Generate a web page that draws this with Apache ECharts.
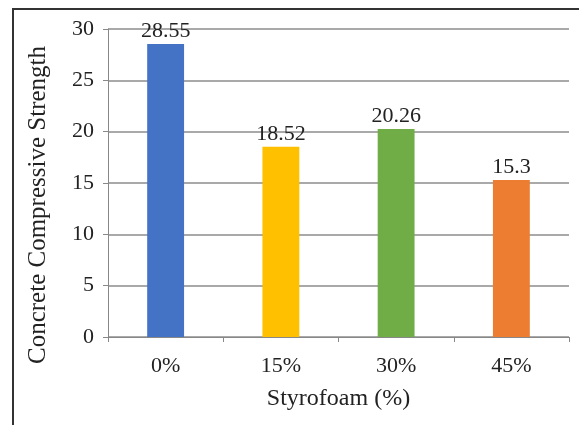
<!DOCTYPE html>
<html>
<head>
<meta charset="utf-8">
<script src="https://cdn.jsdelivr.net/npm/echarts@6/dist/echarts.min.js"></script>
<style>
  html, body { margin: 0; padding: 0; background: #fff; }
  #chart { width: 579px; height: 425px; }
</style>
</head>
<body>
<div id="chart"></div>
<script>
// Styrofoam replacement levels and measured compressive strength
const categories = ['0%', '15%', '30%', '45%'];
const strength = [28.55, 18.52, 20.26, 15.3];
const barColors = ['#4472C4', '#FFC000', '#70AD47', '#ED7D31'];
const yTicks = { min: 0, max: 30, interval: 5 };

const serif = '"Liberation Serif", "Times New Roman", serif';

const chart = echarts.init(document.getElementById('chart'));
chart.setOption({
  animation: false,
  backgroundColor: '#fff',
  graphic: [{
    type: 'rect',
    shape: { x: 13, y: 9, width: 620, height: 460 },
    style: { fill: 'none', stroke: '#333', lineWidth: 2 },
    silent: true
  }],
  grid: { left: 108, top: 29, right: 10, bottom: 88 },
  xAxis: {
    type: 'category',
    data: categories,
    name: 'Styrofoam (%)',
    nameLocation: 'middle',
    nameGap: 50,
    nameTextStyle: { fontFamily: serif, fontSize: 24, color: '#222' },
    axisLine: { lineStyle: { color: '#888', width: 1 } },
    axisTick: { show: true, length: 5, lineStyle: { color: '#888' } },
    axisLabel: { fontFamily: serif, fontSize: 22, color: '#222', margin: 18 }
  },
  yAxis: {
    type: 'value',
    min: yTicks.min,
    max: yTicks.max,
    interval: yTicks.interval,
    name: 'Concrete Compressive Strength',
    nameLocation: 'middle',
    nameGap: 57,
    nameTextStyle: {
      fontFamily: serif, fontSize: 25, color: '#222',
      padding: [0, 44, 0, 0]
    },
    axisLine: { show: true, lineStyle: { color: '#888', width: 1 } },
    axisTick: { show: true, length: 5, lineStyle: { color: '#888' } },
    axisLabel: { fontFamily: serif, fontSize: 22, color: '#222', margin: 14 },
    splitLine: { lineStyle: { color: '#8c8c8c', width: 1.5 } }
  },
  series: [{
    type: 'bar',
    barWidth: '32%',
    data: strength.map((v, i) => ({ value: v, itemStyle: { color: barColors[i] } })),
    label: {
      show: true,
      position: 'top',
      distance: 2,
      fontFamily: serif,
      fontSize: 22,
      color: '#222'
    }
  }]
});
</script>
</body>
</html>
